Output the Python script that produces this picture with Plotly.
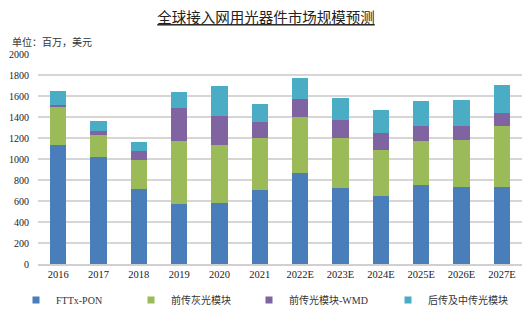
import plotly.graph_objects as go

# 全球接入网用光器件市场规模（百万美元）
years = ["2016", "2017", "2018", "2019", "2020", "2021",
         "2022E", "2023E", "2024E", "2025E", "2026E", "2027E"]
fttx_pon = [1133, 1016, 711, 568, 578, 708, 864, 727, 645, 749, 733, 737]
fronthaul_grey = [366, 216, 283, 604, 552, 492, 536, 476, 444, 419, 451, 581]
fronthaul_wdm = [19, 32, 82, 317, 277, 149, 172, 165, 156, 150, 134, 123]
backhaul_mid = [125, 101, 83, 149, 288, 175, 200, 213, 222, 231, 241, 261]

series = [
    ("FTTx-PON", fttx_pon, "#4a7ebb"),
    ("前传灰光模块", fronthaul_grey, "#9bbb59"),
    ("前传光模块-WMD", fronthaul_wdm, "#8064a2"),
    ("后传及中传光模块", backhaul_mid, "#4bacc6"),
]
legend_ids = ["legend", "legend2", "legend3", "legend4"]
legend_text_x = [56, 171, 289, 428]  # pixel x where each legend label starts

W, H = 532, 321
FONT = "Liberation Serif, Noto Sans CJK SC, serif"

fig = go.Figure()
for (name, vals, color), lid in zip(series, legend_ids):
    fig.add_trace(go.Bar(x=years, y=vals, name=name, marker_color=color,
                         marker_line_width=0, showlegend=False))
    # small square legend key
    fig.add_trace(go.Scatter(x=[None], y=[None], mode="markers", name=name,
                             marker=dict(symbol="square", size=7, color=color),
                             legend=lid, showlegend=True))

layout_legends = {}
for lid, tx in zip(legend_ids, legend_text_x):
    layout_legends[lid] = dict(
        orientation="h", xref="container", yref="container",
        x=(tx - 40) / W, xanchor="left", y=(H - 300) / H, yanchor="middle",
        font=dict(family=FONT, size=10, color="#333333"),
        bgcolor="rgba(0,0,0,0)", itemclick=False, itemdoubleclick=False,
    )

fig.update_layout(
    width=W, height=H,
    margin=dict(l=38, r=10, t=54, b=57, autoexpand=False),
    paper_bgcolor="white", plot_bgcolor="white",
    barmode="stack", bargap=0.6,
    title=dict(text="<u>全球接入网用光器件市场规模预测</u>",
               xref="container", x=0.5, xanchor="center",
               yref="container", y=(H - 18) / H, yanchor="middle",
               font=dict(family="Noto Sans CJK SC", size=14.5, color="#222222")),
    font=dict(family=FONT, size=10, color="#333333"),
    **layout_legends,
)

fig.add_annotation(text="单位：百万，美元", xref="paper", yref="paper",
                   x=(10 - 38) / 484, y=(264.3 - 42) / 210,
                   xanchor="left", yanchor="middle", showarrow=False,
                   font=dict(family="Noto Sans CJK SC", size=10, color="#333333"))

fig.update_xaxes(type="category", showgrid=False, showline=True,
                 linecolor="#d0d0d0", linewidth=1.5,
                 tickfont=dict(family=FONT, size=10.5, color="#222222"))
fig.update_yaxes(range=[0, 2000], dtick=200, showgrid=True,
                 gridcolor="#d6d6d6", gridwidth=1.5, zeroline=False,
                 ticklabelstandoff=8,
                 tickfont=dict(family=FONT, size=10, color="#222222"))

fig.write_html("out.html")
